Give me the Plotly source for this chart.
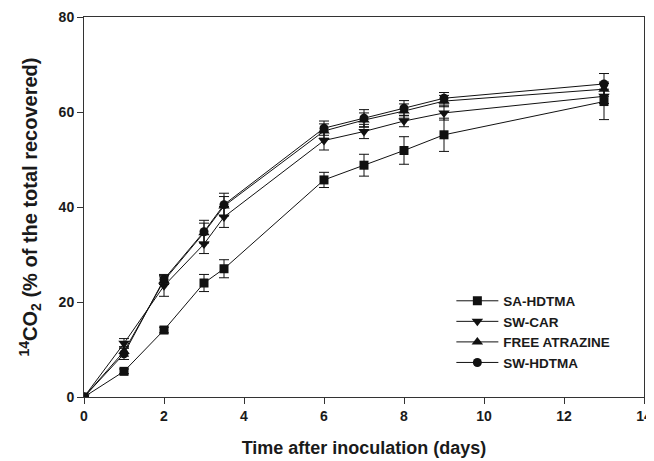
import plotly.graph_objects as go

days = [0, 1, 2, 3, 3.5, 6, 7, 8, 9, 13]

sa_hdtma = [0, 5.4, 14.1, 24.0, 27.0, 45.7, 48.8, 51.9, 55.2, 62.2]
sa_hdtma_err = [0, 0.5, 0.6, 1.8, 1.9, 1.6, 2.3, 2.9, 3.5, 3.8]

sw_car = [0, 11.3, 23.4, 32.2, 37.9, 54.0, 55.9, 58.1, 59.8, 63.3]
sw_car_err = [0, 1.0, 2.2, 2.0, 2.2, 2.0, 1.5, 1.2, 1.5, 1.5]

free_atrazine = [0, 9.6, 24.5, 34.6, 40.2, 56.0, 58.3, 60.2, 62.3, 64.8]
free_atrazine_err = [0, 1.0, 0.8, 2.0, 2.0, 1.5, 1.5, 1.5, 1.2, 1.5]

sw_hdtma = [0, 9.1, 24.8, 34.8, 40.5, 56.6, 58.7, 60.8, 62.9, 65.9]
sw_hdtma_err = [0, 1.2, 1.0, 2.4, 2.4, 1.5, 1.8, 1.6, 1.2, 2.2]

series = [
    ("SA-HDTMA", sa_hdtma, sa_hdtma_err, "square", 9),
    ("SW-CAR", sw_car, sw_car_err, "triangle-down", 10),
    ("FREE ATRAZINE", free_atrazine, free_atrazine_err, "triangle-up", 10),
    ("SW-HDTMA", sw_hdtma, sw_hdtma_err, "circle", 9),
]

fig = go.Figure()
for name, ys, errs, sym, sz in series:
    fig.add_trace(go.Scatter(
        x=days, y=ys, name=name, mode="lines+markers",
        line=dict(color="#111", width=1),
        marker=dict(symbol=sym, size=sz, color="#111"),
        error_y=dict(type="data", array=errs, visible=True, color="#111",
                     thickness=1, width=5),
    ))

font_fam = "Liberation Sans, Arial, sans-serif"
txt = "#1a1a1a"
# page body has an 8px default margin, so the figure is sized/offset to compensate
fig.update_layout(
    width=646, height=453,
    margin=dict(l=76, r=10, t=9, b=64),
    paper_bgcolor="white", plot_bgcolor="white",
    font=dict(family=font_fam, color=txt, size=14),
    showlegend=True,
    legend=dict(x=0.656, y=0.171, xanchor="left", yanchor="middle",
                bgcolor="rgba(0,0,0,0)", tracegroupgap=0,
                font=dict(family=font_fam, size=13.5, color=txt, weight="bold"),
                itemwidth=42),
    xaxis=dict(range=[0, 14], dtick=2, showline=True, linecolor="#333",
               linewidth=1, mirror=True, ticks="outside", ticklen=6,
               tickcolor="#333", showgrid=False, zeroline=False, automargin=False,
               tickfont=dict(family=font_fam, size=14, color=txt, weight="bold"),
               title=dict(text="Time after inoculation (days)", standoff=18,
                          font=dict(family=font_fam, size=18, color=txt, weight="bold"))),
    yaxis=dict(range=[0, 80], dtick=20, showline=True, linecolor="#333",
               linewidth=1, mirror=True, ticks="outside", ticklen=6,
               tickcolor="#333", showgrid=False, zeroline=False, automargin=False,
               tickfont=dict(family=font_fam, size=14, color=txt, weight="bold"),
               title=dict(text="<sup>14</sup>CO<sub>2</sub> (% of the total recovered)",
                          standoff=15,
                          font=dict(family=font_fam, size=20, color=txt, weight="bold"))),
)

fig.write_html("out.html")
